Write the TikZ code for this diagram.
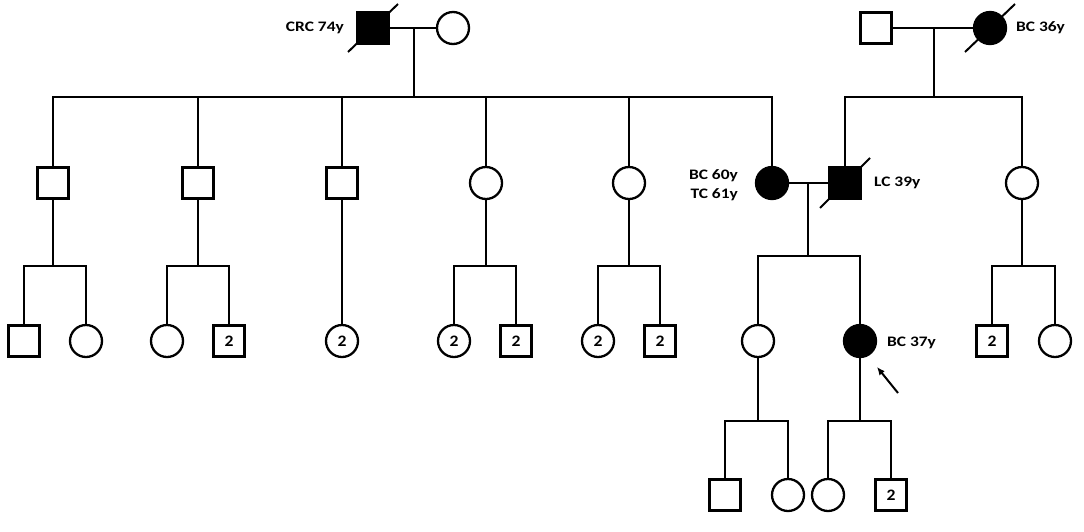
\documentclass[tikz,border=0pt]{standalone}
\usepackage{fontspec}
\setmainfont{Carlito}
\newfontfamily\labfont[FakeStretch=1.2]{Carlito}
\newfontfamily\numfont[FakeStretch=1.1]{Carlito}
\usetikzlibrary{arrows.meta}
\begin{document}
\begin{tikzpicture}[x=1pt,y=-1pt,line width=2.3pt,
  male/.style={draw,rectangle,minimum size=31pt,inner sep=0pt,font=\numfont\bfseries\fontsize{16}{16}\selectfont},
  fem/.style={draw,circle,minimum size=32pt,inner sep=0pt,font=\numfont\bfseries\fontsize{16}{16}\selectfont},
  aff/.style={fill=black},
  lab/.style={inner sep=0pt,font=\labfont\bfseries\fontsize{14.5}{19}\selectfont},
  dec/.style={line width=2pt}]
\useasboundingbox (0,0) rectangle (1084,531);
% Generation I
\node[male,aff] (crc) at (373,28) {};
\node[fem] (crcw) at (453,28) {};
\draw (crc) -- (crcw);
\draw[dec] (crc) ++(-25,24) -- ++(50,-48);
\node[lab,anchor=east] (lcrc) at (345,28) {CRC 74y};
\coordinate (m1) at (414,28);
\coordinate (s1) at (414,97);
\draw (m1) -- (s1);
\node[male] (rgf) at (876,28) {};
\node[fem,aff] (rgm) at (990,28) {};
\draw (rgf) -- (rgm);
\draw[dec] (rgm) ++(-25,24) -- ++(50,-48);
\node[lab,anchor=west] (lbc36) at (1015,28) {BC 36y};
\coordinate (m2) at (934,28);
\coordinate (s2) at (934,97);
\draw (m2) -- (s2);
% Generation II
\node[male] (g2a) at (53,183) {};
\node[male] (g2b) at (198,183) {};
\node[male] (g2c) at (342,183) {};
\node[fem] (g2d) at (486,183) {};
\node[fem] (g2e) at (629,183) {};
\node[fem,aff] (g2f) at (772,183) {};
\node[male,aff] (lc) at (845,183) {};
\node[fem] (g2h) at (1022,183) {};
\draw (g2a.north) |- (s1) -| (g2f.north);
\draw (g2b.north) -- (g2b.north |- s1);
\draw (g2c.north) -- (g2c.north |- s1);
\draw (g2d.north) -- (g2d.north |- s1);
\draw (g2e.north) -- (g2e.north |- s1);
\draw (lc.north) |- (s2) -| (g2h.north);
\draw (g2f) -- (lc);
\draw[dec] (lc) ++(-25,25) -- ++(50,-50);
\node[lab,anchor=east,align=right] (lbc60) at (739,185) {BC 60y\\TC 61y};
\node[lab,anchor=west] (llc) at (873,183) {LC 39y};
\coordinate (m3) at (808,183);
\coordinate (s3) at (808,256);
\draw (m3) -- (s3);
% Generation III
\node[male] (a1) at (24,341) {};
\node[fem] (a2) at (86,341) {};
\coordinate (sa) at (53,266);
\draw (g2a.south) -- (sa);
\draw (a1.north) |- (sa) -| (a2.north);
\node[fem] (b1) at (167,341) {};
\node[male] (b2) at (229,341) {2};
\coordinate (sb) at (198,266);
\draw (g2b.south) -- (sb);
\draw (b1.north) |- (sb) -| (b2.north);
\node[fem] (c1) at (342,341) {2};
\draw (g2c) -- (c1);
\node[fem] (d1) at (454,341) {2};
\node[male] (d2) at (516,341) {2};
\coordinate (sd) at (486,266);
\draw (g2d.south) -- (sd);
\draw (d1.north) |- (sd) -| (d2.north);
\node[fem] (e1) at (598,341) {2};
\node[male] (e2) at (660,341) {2};
\coordinate (se) at (629,266);
\draw (g2e.south) -- (se);
\draw (e1.north) |- (se) -| (e2.north);
\node[fem] (f1) at (758,341) {};
\node[fem,aff] (f2) at (860,341) {};
\draw (f1.north) |- (s3) -| (f2.north);
\node[lab,anchor=west] (lbc37) at (886,343) {BC 37y};
\coordinate (arr) at (898,393);
\coordinate (arrtip) at (877,367);
\draw[line width=2pt,-{Latex[length=8pt,width=7pt]}] (arr) -- (arrtip);
\node[male] (h1) at (992,341) {2};
\node[fem] (h2) at (1055,341) {};
\coordinate (sh) at (1022,266);
\draw (g2h.south) -- (sh);
\draw (h1.north) |- (sh) -| (h2.north);
% Generation IV
\node[male] (k1) at (725,495) {};
\node[fem] (k2) at (788,495) {};
\node[fem] (k3) at (828,495) {};
\node[male] (k4) at (891,495) {2};
\coordinate (sf1) at (758,421);
\coordinate (sf2) at (860,421);
\draw (f1.south) -- (sf1);
\draw (f2.south) -- (sf2);
\draw (k1.north) |- (sf1) -| (k2.north);
\draw (k3.north) |- (sf2) -| (k4.north);
\end{tikzpicture}
\end{document}
